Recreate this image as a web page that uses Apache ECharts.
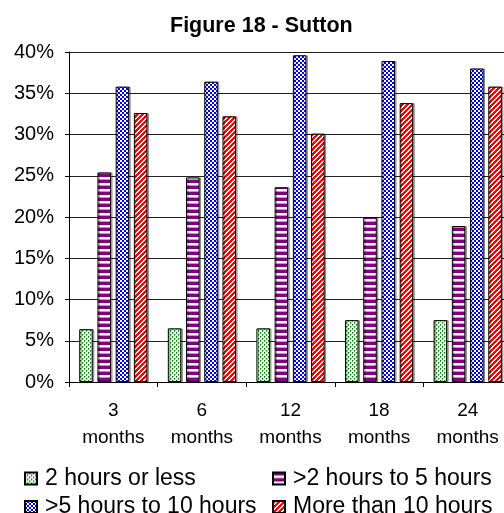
<!DOCTYPE html>
<html>
<head>
<meta charset="utf-8">
<script src="https://cdn.jsdelivr.net/npm/echarts@6/dist/echarts.min.js"></script>
<style>
  html, body { margin: 0; padding: 0; background: #fff; }
  #chart { width: 504px; height: 513px; }
</style>
</head>
<body>
<div id="chart"></div>
<script>
// Share of respondents (%) by time spent, at each follow-up point
const categories = ['3\nmonths', '6\nmonths', '12\nmonths', '18\nmonths', '24\nmonths'];
const seriesNames = ['2 hours or less', '>2 hours to 5 hours', '>5 hours to 10 hours', 'More than 10 hours'];
const upTo2h = [6.4, 6.5, 6.5, 7.5, 7.5];
const from2to5h = [25.4, 24.8, 23.6, 20.0, 18.9];
const from5to10h = [35.8, 36.4, 39.6, 38.9, 38.0];
const over10h = [32.6, 32.2, 30.1, 33.8, 35.8];
const yTicks = [0, 5, 10, 15, 20, 25, 30, 35, 40];

// Small repeating tiles used as hatched fills
function tile(w, h, paint) {
  const c = document.createElement('canvas');
  c.width = w; c.height = h;
  const ctx = c.getContext('2d');
  paint(ctx, w, h);
  return c;
}
const dotsGreen = tile(4, 4, (ctx) => {
  ctx.fillStyle = '#eef7ee'; ctx.fillRect(0, 0, 4, 4);
  ctx.fillStyle = '#008000';
  ctx.fillRect(0, 0, 1, 1); ctx.fillRect(2, 2, 1, 1);
  ctx.fillStyle = '#5aad5a';
  ctx.fillRect(0, 1, 1, 1); ctx.fillRect(2, 3, 1, 1);
  ctx.fillStyle = '#a9d6a9';
  ctx.fillRect(1, 0, 1, 1); ctx.fillRect(3, 2, 1, 1);
});
const stripesPurple = tile(4, 6, (ctx) => {
  ctx.fillStyle = '#ffffff'; ctx.fillRect(0, 0, 4, 6);
  ctx.fillStyle = '#800080'; ctx.fillRect(0, 0, 4, 3);
  ctx.fillStyle = '#c98fc9'; ctx.fillRect(0, 5, 4, 1);
});
const checkBlue = tile(4, 4, (ctx) => {
  ctx.fillStyle = '#0000ff'; ctx.fillRect(0, 0, 4, 4);
  ctx.fillStyle = '#ffffff';
  ctx.fillRect(0, 0, 2, 2); ctx.fillRect(2, 2, 2, 2);
});
const diagRed = tile(5, 5, (ctx) => {
  for (let x = 0; x < 5; x++) {
    for (let y = 0; y < 5; y++) {
      ctx.fillStyle = ((x + y) % 5) < 3 ? '#ff0000' : '#ffffff';
      ctx.fillRect(x, y, 1, 1);
    }
  }
});

const fills = [dotsGreen, stripesPurple, checkBlue, diagRed];
const values = [upTo2h, from2to5h, from5to10h, over10h];

const font = 'Arial, "Liberation Sans", sans-serif';

const series = seriesNames.map((name, i) => ({
  name: name,
  type: 'bar',
  data: values[i],
  barWidth: 13.5,
  barGap: '35%',
  itemStyle: {
    color: { image: fills[i], repeat: 'repeat' },
    borderColor: '#000',
    borderWidth: 1,
    shadowColor: 'rgba(0,0,0,0.35)',
    shadowOffsetX: 1.5,
    shadowOffsetY: 0,
    shadowBlur: 0
  },
  emphasis: { disabled: true }
}));

const legendBase = {
  orient: 'vertical',
  top: 467,
  height: 70,
  itemWidth: 12, itemHeight: 12, itemGap: 5.5,
  icon: 'rect',
  textStyle: { fontFamily: font, fontSize: 23, lineHeight: 21, color: '#000', padding: [0, 0, 0, 3] },
  padding: 0
};

const chart = echarts.init(document.getElementById('chart'), null, { renderer: 'canvas' });
chart.setOption({
  animation: false,
  backgroundColor: '#ffffff',
  title: {
    text: 'Figure 18 - Sutton',
    left: 165,
    top: 10,
    textStyle: { fontFamily: font, fontWeight: 'bold', fontSize: 21.5, color: '#000' }
  },
  grid: { left: 69, top: 52, right: -8, bottom: 131, outerBoundsMode: 'none' },
  legend: [
    Object.assign({}, legendBase, { data: [seriesNames[0], seriesNames[2]], left: 24 }),
    Object.assign({}, legendBase, { data: [seriesNames[1], seriesNames[3]], left: 272 })
  ],
  xAxis: {
    type: 'category',
    data: categories,
    boundaryGap: true,
    axisLine: { lineStyle: { color: '#000', width: 1 } },
    axisTick: { show: true, alignWithLabel: false, length: 5, lineStyle: { color: '#000' } },
    axisLabel: {
      interval: 0,
      margin: 15,
      fontFamily: font,
      fontSize: 19,
      lineHeight: 27,
      color: '#000'
    },
    splitLine: { show: false }
  },
  yAxis: {
    type: 'value',
    min: yTicks[0],
    max: yTicks[yTicks.length - 1],
    interval: 5,
    axisLine: { show: true, lineStyle: { color: '#000', width: 1 } },
    axisTick: { show: true, length: 4, lineStyle: { color: '#000' } },
    axisLabel: {
      margin: 15,
      fontFamily: font,
      fontSize: 20,
      color: '#000',
      formatter: '{value}%'
    },
    splitLine: { show: true, lineStyle: { color: '#222', width: 1 } }
  },
  series: series
});
</script>
</body>
</html>
